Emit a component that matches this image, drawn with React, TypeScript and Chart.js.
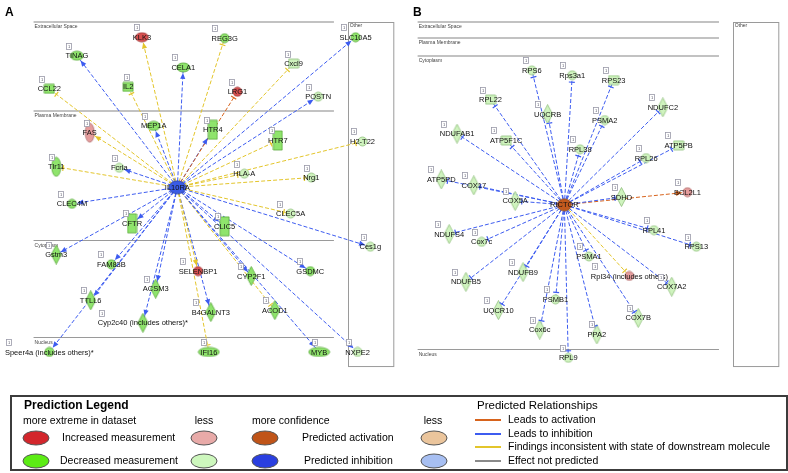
import React, { useEffect, useRef } from 'react';
import { Chart, registerables } from 'chart.js';

Chart.register(...registerables);

const FONT = '"Liberation Sans", Arial, Helvetica, sans-serif';

// ---------- Panel A : upstream regulator and its targets ----------
// [label, x, y, shape, colour]
const hubA: [string, number, number, string, string] = ['IL10RA', 174, 186, 'hub', 'blue'];
const nodesA: [string, number, number, string, string][] = [
  ['KLK3', 138, 32, 'ell', 'red'],
  ['TINAG', 72, 51, 'ell', 'green'],
  ['CELA1', 180, 63, 'ell', 'green'],
  ['IL2', 124, 83, 'rect', 'green'],
  ['CCL22', 44, 85, 'rect', 'green'],
  ['FAS', 85, 130, 'vell', 'pink'],
  ['MEP1A', 150, 123, 'ell', 'green'],
  ['REG3G', 222, 33, 'circ', 'green'],
  ['Cxcl9', 292, 59, 'rect', 'pale'],
  ['LRG1', 235, 88, 'circ', 'red'],
  ['POSTN', 317, 93, 'circ', 'pale'],
  ['SLC10A5', 355, 32, 'circ', 'green'],
  ['HTR4', 210, 127, 'vrect', 'green'],
  ['HTR7', 276, 138, 'vrect', 'green'],
  ['H2-T22', 362, 139, 'circ', 'pale'],
  ['Tlr11', 51, 165, 'vell', 'green'],
  ['Fcrla', 115, 166, 'circ', 'pale'],
  ['CLEC4M', 67, 203, 'circ', 'green'],
  ['CFTR', 128, 223, 'vrect', 'green'],
  ['Gstm3', 51, 255, 'dia', 'green'],
  ['FAM83B', 107, 265, 'circ', 'green'],
  ['ACSM3', 152, 290, 'dia', 'green'],
  ['TTLL6', 86, 302, 'dia', 'green'],
  ['SELENBP1', 195, 272, 'circ', 'red'],
  ['HLA-A', 242, 172, 'circ', 'pale'],
  ['Nrg1', 310, 176, 'circ', 'pale'],
  ['CLEC5A', 289, 213, 'circ', 'pale'],
  ['CLIC5', 222, 226, 'vrect', 'green'],
  ['Ces1g', 370, 247, 'circ', 'pale'],
  ['GSDMC', 309, 272, 'circ', 'green'],
  ['CYP2F1', 249, 277, 'dia', 'green'],
  ['ACOD1', 273, 312, 'dia', 'green'],
  ['Cyp2c40 (includes others)*', 139, 325, 'dia', 'green'],
  ['Speer4a (includes others)*', 44, 355, 'circ', 'green'],
  ['B4GALNT3', 208, 314, 'dia', 'green'],
  ['IFI16', 206, 355, 'ellw', 'green'],
  ['MYB', 318, 355, 'ellw', 'green'],
  ['NXPE2', 357, 355, 'circ', 'pale'],
];
// [target, relation, end]
const edgesA: [string, string, string][] = [
  ['KLK3', 'inc', 'arrow'], ['TINAG', 'inh', 'arrow'], ['CELA1', 'inh', 'arrow'], ['IL2', 'inc', 'tee'],
  ['CCL22', 'inc', 'tee'], ['FAS', 'inc', 'arrow'], ['MEP1A', 'inh', 'arrow'], ['REG3G', 'inc', 'tee'],
  ['Cxcl9', 'inc', 'tee'], ['LRG1', 'act', 'tee'], ['POSTN', 'inh', 'arrow'], ['SLC10A5', 'inh', 'arrow'],
  ['HTR4', 'inh', 'arrow'], ['HTR7', 'inc', 'tee'], ['H2-T22', 'inc', 'tee'], ['Tlr11', 'inc', 'tee'],
  ['Fcrla', 'inh', 'arrow'], ['CLEC4M', 'inh', 'arrow'], ['CFTR', 'inh', 'arrow'], ['Gstm3', 'inh', 'arrow'],
  ['FAM83B', 'inh', 'arrow'], ['ACSM3', 'inh', 'arrow'], ['TTLL6', 'inh', 'arrow'], ['SELENBP1', 'inc', 'arrow'],
  ['HLA-A', 'inc', 'tee'], ['Nrg1', 'inc', 'tee'], ['CLEC5A', 'inc', 'tee'], ['CLIC5', 'inh', 'arrow'],
  ['Ces1g', 'inh', 'arrow'], ['GSDMC', 'inh', 'arrow'], ['CYP2F1', 'inh', 'arrow'], ['ACOD1', 'inc', 'tee'],
  ['Cyp2c40 (includes others)*', 'inh', 'arrow'], ['Speer4a (includes others)*', 'inh', 'arrow'],
  ['B4GALNT3', 'inh', 'arrow'], ['IFI16', 'inc', 'tee'], ['MYB', 'inh', 'arrow'], ['NXPE2', 'inh', 'arrow'],
];

// ---------- Panel B ----------
const hubB: [string, number, number, string, string] = ['RICTOR', 567, 204, 'hubB', 'orange'];
const nodesB: [string, number, number, string, string][] = [
  ['RPS6', 534, 66, 'circ', 'pale'],
  ['Rps3a1', 575, 71, 'circ', 'pale'],
  ['RPL22', 492, 96, 'rect', 'pale'],
  ['UQCRB', 550, 111, 'dia', 'pale'],
  ['NDUFAB1', 458, 131, 'dia', 'pale'],
  ['ATP5F1C', 508, 138, 'rect', 'pale'],
  ['RPL38', 583, 147, 'circ', 'pale'],
  ['RPS23', 617, 76, 'rect', 'pale'],
  ['NDUFC2', 667, 104, 'dia', 'pale'],
  ['PSMA2', 608, 117, 'circ', 'pale'],
  ['ATP5PB', 683, 143, 'rect', 'pale'],
  ['RPL26', 650, 156, 'circ', 'pale'],
  ['ATP5PD', 442, 178, 'dia', 'pale'],
  ['COX17', 475, 184, 'dia', 'pale'],
  ['COX5A', 517, 200, 'dia', 'pale'],
  ['NDUFS4', 450, 234, 'dia', 'pale'],
  ['Cox7c', 483, 242, 'circ', 'pale'],
  ['NDUFB9', 525, 273, 'dia', 'pale'],
  ['NDUFB5', 467, 283, 'dia', 'pale'],
  ['PSMB1', 558, 301, 'circ', 'pale'],
  ['PSMA1', 592, 257, 'circ', 'pale'],
  ['SDHD', 625, 196, 'dia', 'pale'],
  ['BCL2L1', 692, 191, 'circ', 'pink'],
  ['RPL41', 658, 230, 'circ', 'pale'],
  ['RPS13', 701, 247, 'circ', 'pale'],
  ['Rpl34 (includes others)', 633, 277, 'circ', 'pink'],
  ['COX7A2', 676, 288, 'dia', 'pale'],
  ['UQCR10', 500, 312, 'dia', 'pale'],
  ['Cox6c', 542, 332, 'dia', 'pale'],
  ['PPA2', 600, 337, 'dia', 'pale'],
  ['COX7B', 642, 320, 'dia', 'pale'],
  ['RPL9', 571, 361, 'circ', 'pale'],
];
const edgesB: [string, string, string][] = [
  ['RPS6', 'inh', 'tee'], ['Rps3a1', 'inh', 'tee'], ['RPL22', 'inh', 'tee'], ['UQCRB', 'inh', 'tee'],
  ['NDUFAB1', 'inh', 'tee'], ['ATP5F1C', 'inh', 'tee'], ['RPL38', 'inh', 'tee'], ['RPS23', 'inh', 'tee'],
  ['NDUFC2', 'inh', 'tee'], ['PSMA2', 'inh', 'tee'], ['ATP5PB', 'inh', 'tee'], ['RPL26', 'inh', 'tee'],
  ['ATP5PD', 'inh', 'tee'], ['COX17', 'inh', 'tee'], ['COX5A', 'inh', 'tee'], ['NDUFS4', 'inh', 'tee'],
  ['Cox7c', 'inh', 'tee'], ['NDUFB9', 'inh', 'tee'], ['NDUFB5', 'inh', 'tee'], ['PSMB1', 'inh', 'tee'],
  ['PSMA1', 'inh', 'tee'], ['SDHD', 'inh', 'tee'], ['BCL2L1', 'act', 'arrow'], ['RPL41', 'inh', 'tee'],
  ['RPS13', 'inh', 'tee'], ['Rpl34 (includes others)', 'inc', 'tee'], ['COX7A2', 'inh', 'tee'],
  ['UQCR10', 'inh', 'tee'], ['Cox6c', 'inh', 'tee'], ['PPA2', 'inh', 'tee'], ['COX7B', 'inh', 'tee'],
  ['RPL9', 'inh', 'tee'],
];

// ---------- compartments ----------
const compartmentsA: [string, number, string][] = [
  ['Extracellular Space', 16, 'thick'], ['Plasma Membrane', 108, 'thick'], ['Cytoplasm', 240, 'thin'], ['Nucleus', 340, 'thin'],
];
const compartmentsB: [string, number, string][] = [
  ['Extracellular Space', 16, 'thick'], ['Plasma Membrane', 33, 'thick'], ['Cytoplasm', 51, 'thick'], ['Nucleus', 352, 'thin'],
];
const spanA = [28, 333];
const spanB = [418, 724];
const otherA = [347, 393, 16, 369];
const otherB = [738, 784, 16, 369];

// ---------- legend ----------
const legendMeasureRows = [
  ['Increased measurement', 'red', 'pink', 'Predicted activation', 'orange', 'tan'],
  ['Decreased measurement', 'lime', 'lightgreen', 'Predicted inhibition', 'blue', 'lightblue'],
];
const legendRelations = [
  ['Leads to activation', 'act'],
  ['Leads to inhibition', 'inh'],
  ['Findings inconsistent with state of downstream molecule', 'inc'],
  ['Effect not predicted', 'none'],
];

const shapeSize: Record<string, [number, number]> = {
  ell: [13, 9], ellw: [21, 9], vell: [9, 19], circ: [9, 9], rect: [10, 9], vrect: [9, 19], dia: [9, 18], hub: [17, 13], hubB: [14, 12],
};
const nodePalette: Record<string, [string, string]> = {
  red: ['#d95050', '#9a3030'],
  pink: ['#e59c9c', '#b07070'],
  green: ['#8fe46c', '#5aa83c'],
  pale: ['#cff3be', '#90c07e'],
  blue: ['#3a5ce6', '#223a9c'],
  orange: ['#c45a1e', '#86400f'],
};
const legendPalette: Record<string, string> = {
  red: '#d3262c', pink: '#e8aaa8', orange: '#c05418', tan: '#ebc59c',
  lime: '#5cec14', lightgreen: '#cdf7bd', blue: '#2a3fe0', lightblue: '#a7bff2',
};
const relColor: Record<string, string> = {
  inh: '#3d5cf0', inc: '#e3c52b', act: '#d7631c', none: '#8a8a8a',
};

function makeGlyph(shape: string, color: string): HTMLCanvasElement {
  const [w, h] = shapeSize[shape];
  const [fill, stroke] = nodePalette[color];
  const c = document.createElement('canvas');
  c.width = w + 2;
  c.height = h + 2;
  const ctx = c.getContext('2d')!;
  const cx = c.width / 2;
  const cy = c.height / 2;
  ctx.fillStyle = fill;
  ctx.strokeStyle = stroke;
  ctx.lineWidth = 0.8;
  ctx.beginPath();
  if (shape === 'rect' || shape === 'vrect') {
    ctx.rect(1, 1, w, h);
  } else if (shape === 'dia') {
    ctx.moveTo(cx, 0.5);
    ctx.lineTo(w + 1.5, cy);
    ctx.lineTo(cx, h + 1.5);
    ctx.lineTo(0.5, cy);
    ctx.closePath();
  } else {
    ctx.ellipse(cx, cy, w / 2, h / 2, 0, 0, Math.PI * 2);
  }
  ctx.fill();
  ctx.stroke();
  return c;
}

function boundary(shape: string, ux: number, uy: number): number {
  const [w, h] = shapeSize[shape];
  const a = w / 2 + 0.5;
  const b = h / 2 + 0.5;
  const ax = Math.abs(ux);
  const ay = Math.abs(uy);
  if (shape === 'rect' || shape === 'vrect') {
    return Math.min(ax > 1e-6 ? a / ax : 1e9, ay > 1e-6 ? b / ay : 1e9);
  }
  if (shape === 'dia') return 1 / (ax / a + ay / b);
  return (a * b) / Math.sqrt((b * ux) ** 2 + (a * uy) ** 2);
}

type Node = [string, number, number, string, string];

export default function App() {
  const ref = useRef<HTMLCanvasElement>(null);

  useEffect(() => {
    const canvas = ref.current!;
    const allNodes: Node[] = [hubA, ...nodesA, hubB, ...nodesB];
    const byName = new Map<string, Node>();
    allNodes.forEach((n) => byName.set(n[0], n));

    const edges: { from: Node; to: Node; rel: string; end: string }[] = [];
    edgesA.forEach(([t, rel, end]) => edges.push({ from: hubA, to: byName.get(t)!, rel, end }));
    edgesB.forEach(([t, rel, end]) => edges.push({ from: hubB, to: byName.get(t)!, rel, end }));

    const glyphs = allNodes.map((n) => makeGlyph(n[3], n[4]));

    const datasets: any[] = [
      {
        label: 'nodes',
        data: allNodes.map((n) => ({ x: n[1], y: n[2] })),
        pointStyle: glyphs,
        pointRadius: 5,
        order: 0,
      },
      ...edges.map((e) => ({
        label: e.to[0],
        data: [
          { x: e.from[1], y: e.from[2] },
          { x: e.to[1], y: e.to[2] },
        ],
        showLine: true,
        borderColor: relColor[e.rel],
        borderWidth: 1,
        borderDash: [4, 2],
        pointRadius: 0,
        order: 1,
      })),
    ];

    const plugin = {
      id: 'network',
      beforeDatasetsDraw(chart: any) {
        const ctx: CanvasRenderingContext2D = chart.ctx;
        const sx = chart.scales.x;
        const sy = chart.scales.y;
        const X = (v: number) => sx.getPixelForValue(v);
        const Y = (v: number) => sy.getPixelForValue(v);
        ctx.save();
        const drawComp = (list: [string, number, string][], span: number[], other: number[]) => {
          list.forEach(([name, y, kind]) => {
            ctx.beginPath();
            ctx.strokeStyle = kind === 'thick' ? '#c2c2c2' : '#9a9a9a';
            ctx.lineWidth = kind === 'thick' ? 2 : 1;
            const py = Math.round(Y(y)) + (kind === 'thick' ? 0 : 0.5);
            ctx.moveTo(X(span[0]), py);
            ctx.lineTo(X(span[1]), py);
            ctx.stroke();
            ctx.fillStyle = '#444';
            ctx.font = `5px ${FONT}`;
            ctx.textAlign = 'left';
            ctx.textBaseline = 'middle';
            ctx.fillText(name, X(span[0]) + 1, py + 5);
          });
          ctx.strokeStyle = '#9a9a9a';
          ctx.lineWidth = 1;
          ctx.strokeRect(Math.round(X(other[0])) + 0.5, Math.round(Y(other[2])) + 0.5, X(other[1]) - X(other[0]), Y(other[3]) - Y(other[2]));
          ctx.fillStyle = '#444';
          ctx.font = `5px ${FONT}`;
          ctx.textAlign = 'left';
          ctx.fillText('Other', X(other[0]) + 2, Y(other[2]) + 4);
        };
        drawComp(compartmentsA, spanA, otherA);
        drawComp(compartmentsB, spanB, otherB);
        ctx.restore();
      },
      afterDatasetsDraw(chart: any) {
        const ctx: CanvasRenderingContext2D = chart.ctx;
        const sx = chart.scales.x;
        const sy = chart.scales.y;
        const X = (v: number) => sx.getPixelForValue(v);
        const Y = (v: number) => sy.getPixelForValue(v);
        ctx.save();
        // edge ends
        edges.forEach((e) => {
          const x0 = X(e.from[1]);
          const y0 = Y(e.from[2]);
          const x1 = X(e.to[1]);
          const y1 = Y(e.to[2]);
          const len = Math.hypot(x1 - x0, y1 - y0);
          const ux = (x1 - x0) / len;
          const uy = (y1 - y0) / len;
          const r = boundary(e.to[3], ux, uy) + 0.5;
          const ex = x1 - ux * r;
          const ey = y1 - uy * r;
          ctx.fillStyle = relColor[e.rel];
          ctx.strokeStyle = relColor[e.rel];
          if (e.end === 'arrow') {
            const L = 6;
            const W = 2.6;
            ctx.beginPath();
            ctx.moveTo(ex, ey);
            ctx.lineTo(ex - ux * L - uy * W, ey - uy * L + ux * W);
            ctx.lineTo(ex - ux * L + uy * W, ey - uy * L - ux * W);
            ctx.closePath();
            ctx.fill();
          } else {
            const W = 3;
            const tx = ex - ux * 1.5;
            const ty = ey - uy * 1.5;
            ctx.lineWidth = 1.2;
            ctx.beginPath();
            ctx.moveTo(tx - uy * W, ty + ux * W);
            ctx.lineTo(tx + uy * W, ty - ux * W);
            ctx.stroke();
          }
        });
        // labels and tiny count boxes
        ctx.textAlign = 'center';
        ctx.textBaseline = 'middle';
        allNodes.forEach((n) => {
          const px = X(n[1]);
          const py = Y(n[2]);
          const isHub = n === hubA || n === hubB;
          ctx.font = `7.5px ${FONT}`;
          const tw = ctx.measureText(n[0]).width;
          ctx.fillStyle = '#111';
          ctx.fillText(n[0], px, py + 0.5);
          if (!isHub) {
            const bx = Math.round(px - tw / 2 + 1) + 0.5;
            const by = Math.round(py - 13) + 0.5;
            ctx.fillStyle = '#fff';
            ctx.fillRect(bx, by, 5, 6);
            ctx.strokeStyle = '#9a9aa8';
            ctx.lineWidth = 0.8;
            ctx.strokeRect(bx, by, 5, 6);
            ctx.fillStyle = '#556';
            ctx.font = `4px ${FONT}`;
            ctx.fillText('1', bx + 2.5, by + 3.2);
          }
        });
        // panel letters
        ctx.fillStyle = '#000';
        ctx.font = `bold 12px ${FONT}`;
        ctx.textAlign = 'left';
        ctx.textBaseline = 'alphabetic';
        ctx.fillText('A', 5, 16);
        ctx.fillText('B', 413, 16);

        // legend box
        ctx.strokeStyle = '#3c3c3c';
        ctx.lineWidth = 2;
        ctx.strokeRect(11, 396, 776, 74);
        ctx.textBaseline = 'middle';
        ctx.fillStyle = '#000';
        ctx.font = `bold 12px ${FONT}`;
        ctx.fillText('Prediction Legend', 24, 406);
        ctx.font = `10.5px ${FONT}`;
        ctx.fillText('more extreme in dataset', 23, 421);
        ctx.fillText('more confidence', 252, 421);
        ctx.textAlign = 'center';
        ctx.fillText('less', 204, 421);
        ctx.fillText('less', 433, 421);
        const rowsY = [438, 461];
        legendMeasureRows.forEach((row, i) => {
          const y = rowsY[i];
          const ell = (cx: number, key: string) => {
            ctx.beginPath();
            ctx.ellipse(cx, y, 13, 7, 0, 0, Math.PI * 2);
            ctx.fillStyle = legendPalette[key];
            ctx.fill();
            ctx.strokeStyle = '#555';
            ctx.lineWidth = 1;
            ctx.stroke();
          };
          ell(36, row[1]);
          ell(204, row[2]);
          ell(265, row[4]);
          ell(434, row[5]);
          ctx.fillStyle = '#000';
          ctx.textAlign = 'left';
          ctx.font = `10.5px ${FONT}`;
          ctx.fillText(row[0], i === 0 ? 62 : 60, y);
          ctx.fillText(row[3], i === 0 ? 302 : 304, y);
        });
        ctx.textAlign = 'left';
        ctx.font = `11.5px ${FONT}`;
        ctx.fillText('Predicted Relationships', 477, 406);
        ctx.font = `10.5px ${FONT}`;
        legendRelations.forEach(([txt, rel], i) => {
          const y = [420, 434, 447, 461][i];
          ctx.strokeStyle = relColor[rel];
          ctx.lineWidth = 2;
          ctx.beginPath();
          ctx.moveTo(475, y);
          ctx.lineTo(501, y);
          ctx.stroke();
          ctx.fillStyle = '#000';
          ctx.fillText(txt, 508, y);
        });
        ctx.restore();
      },
    };

    const chart = new Chart(canvas, {
      type: 'scatter',
      data: { datasets },
      options: {
        animation: false,
        responsive: false,
        devicePixelRatio: 1,
        events: [],
        layout: { padding: 0 },
        plugins: { legend: { display: false }, tooltip: { enabled: false } },
        scales: {
          x: { type: 'linear', min: 0, max: 788, display: false },
          y: { type: 'linear', min: 0, max: 473, reverse: true, display: false },
        },
      },
      plugins: [plugin],
    } as any);
    return () => chart.destroy();
  }, []);

  return (
    <div style={{ position: 'absolute', left: 0, top: 0, width: 788, height: 473, background: '#fff' }}>
      <canvas ref={ref} width={788} height={473} style={{ display: 'block' }} />
    </div>
  );
}
